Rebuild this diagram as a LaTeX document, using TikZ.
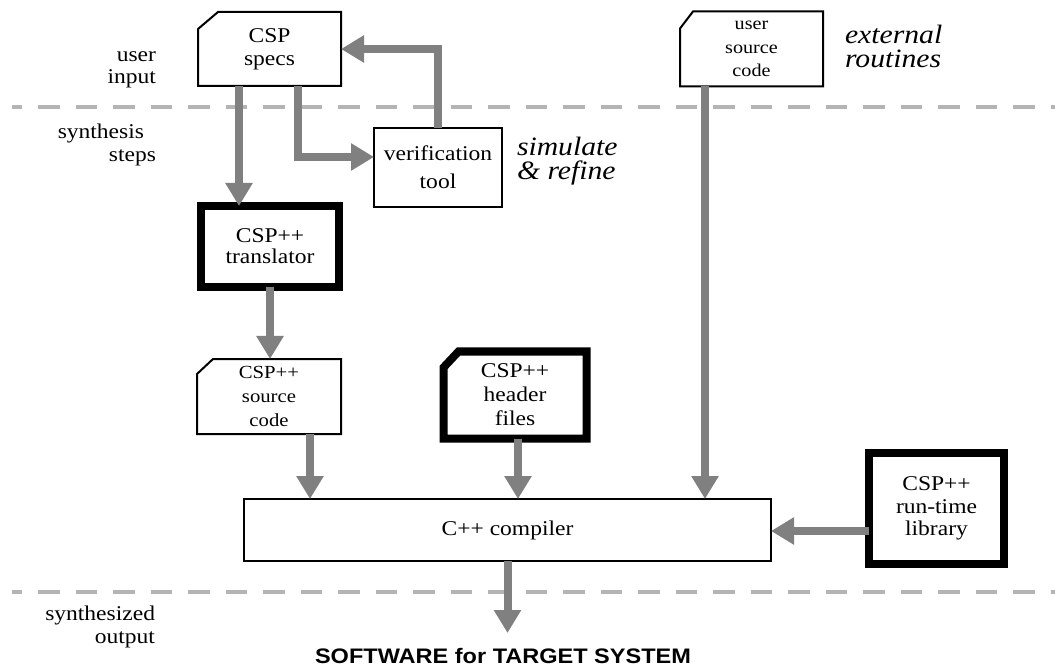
\documentclass[tikz,border=0pt]{standalone}
\usepackage{fontspec}
\setmainfont[FakeStretch=1.12]{Liberation Serif}
\newfontfamily\hvfont[FakeStretch=1.12]{Liberation Sans}
\usetikzlibrary{arrows.meta}
\definecolor{arrowgray}{RGB}{128,128,128}
\definecolor{sepgray}{RGB}{180,180,180}
\begin{document}
\begin{tikzpicture}[x=1pt,y=-1pt,
  every node/.style={inner sep=0pt,outer sep=0pt},
  txt/.style={font=\fontsize{21}{23}\selectfont},
  ital/.style={align=left,font=\fontsize{26.5}{23.5}\selectfont\itshape},
  tbox/.style={align=center,font=\fontsize{21}{23}\selectfont},
  thin/.style={draw=black,line width=2pt,line join=miter},
  thick/.style={draw=black,line width=8pt,line join=miter},
  arr/.style={draw=arrowgray,line width=8pt,line join=miter,
    -{Triangle[length=23pt,width=26pt]}},
  sepline/.style={draw=sepgray,line width=3.5pt,dash pattern=on 21.5pt off 16pt,dash phase=11.5pt}]
\useasboundingbox (0,0) rectangle (1055,668);

% separators
\coordinate (s1a) at (12,107);
\coordinate (s1b) at (1055,107);
\coordinate (s2a) at (12,592);
\coordinate (s2b) at (1055,592);
\draw[sepline] (s1a) -- (s1b);
\draw[sepline] (s2a) -- (s2b);

% left labels
\node[txt,anchor=base east] (l1) at (156,61.5) {user};
\node[txt,anchor=base east] (l2) at (156,84) {input};
\node[txt,anchor=base east] (l3) at (144,138.5) {synthesis};
\node[txt,anchor=base east] (l4) at (156,162) {steps};
\node[txt,anchor=base east] (l5) at (155,620) {synthesized};
\node[txt,anchor=base east] (l6) at (155,643) {output};

% italic remarks
\node[ital,anchor=north west] (r1) at (517,137.5) {simulate\\\& refine};
\node[ital,anchor=north west] (r3) at (845,25.5) {external\\routines};

% boxes
\node[tbox,minimum width=143pt,minimum height=74pt] (specs) at (269.5,49) {CSP\\specs};
\draw[thin] (specs.south west) -- (specs.south east) -- (specs.north east)
  -- ([xshift=20pt]specs.north west) -- ([yshift=-17pt]specs.north west) -- cycle;

\node[tbox,font=\fontsize{18}{23.5}\selectfont,minimum width=143pt,minimum height=75pt] (usrc) at (751.5,49) {user\\source\\code};
\draw[thin] (usrc.south west) -- (usrc.south east) -- (usrc.north east)
  -- ([xshift=13pt]usrc.north west) -- ([yshift=-17pt]usrc.north west) -- cycle;

\node[tbox,thin,font=\fontsize{21}{28}\selectfont,minimum width=128pt,minimum height=79pt] (verif) at (438,167.5) {verification\\tool};

\node[tbox,thick,font=\fontsize{21}{20.7}\selectfont,minimum width=138pt,minimum height=81pt] (trans) at (270,246.5) {CSP++\\translator};

\node[tbox,font=\fontsize{18.5}{24}\selectfont,minimum width=144pt,minimum height=75pt] (src) at (269,396.5) {CSP++\\source\\code};
\draw[thin] (src.south west) -- (src.south east) -- (src.north east)
  -- ([xshift=16pt]src.north west) -- ([yshift=-15pt]src.north west) -- cycle;

\node[tbox,font=\fontsize{21}{24}\selectfont,minimum width=143pt,minimum height=87pt] (hdr) at (515,395) {CSP++\\header\\files};
\draw[thick] (hdr.south west) -- (hdr.south east) -- (hdr.north east)
  -- ([xshift=15pt]hdr.north west) -- ([yshift=-16pt]hdr.north west) -- cycle;

\node[tbox,thin,minimum width=527pt,minimum height=62pt] (cc) at (507.5,530) {C++ compiler};

\node[tbox,thick,font=\fontsize{21}{22.5}\selectfont,minimum width=135pt,minimum height=111pt] (rtl) at (936.5,508.5) {CSP++\\run-time\\library};

\node[font=\hvfont\bfseries\fontsize{21}{23}\selectfont,anchor=base] (sw) at (503,663) {SOFTWARE for TARGET SYSTEM};
\coordinate (out) at (507.5,633);

% connectors
\draw[arr] ([xshift=-30.5pt]specs.south) -- ([xshift=-30.5pt]specs.south |- trans.north);
\draw[arr] ([xshift=28.5pt]specs.south) |- ([yshift=10.5pt]verif.west);
\draw[arr] (verif.north) |- (specs.east);
\draw[arr] (trans.south) -- (trans.south |- src.north);
\draw[arr] ([xshift=41pt]src.south) -- ([xshift=41pt]src.south |- cc.north);
\draw[arr] ([xshift=3pt]hdr.south) -- ([xshift=3pt]hdr.south |- cc.north);
\draw[arr] ([xshift=-46.5pt]usrc.south) -- ([xshift=-46.5pt]usrc.south |- cc.north);
\draw[arr] ([yshift=-22.5pt]rtl.west) -- ([yshift=-22.5pt]rtl.west -| cc.east);
\draw[arr] (cc.south) -- (out);
\end{tikzpicture}
\end{document}
